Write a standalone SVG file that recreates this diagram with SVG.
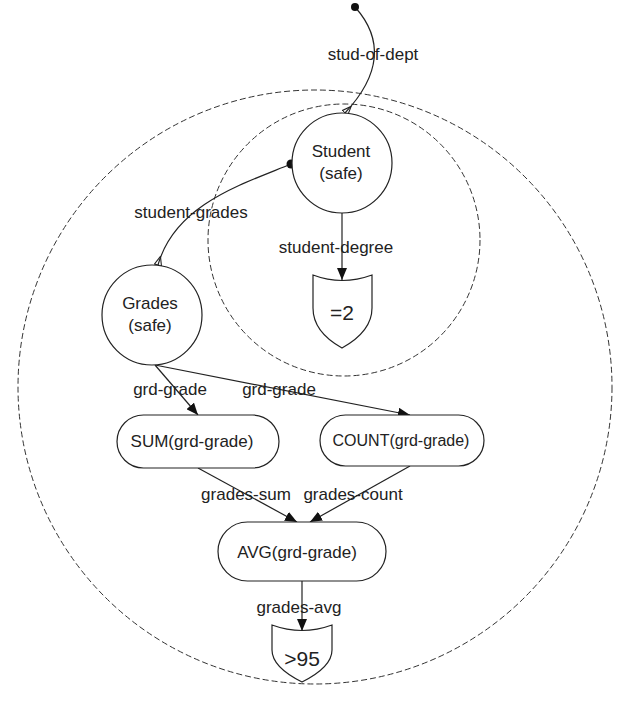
<svg xmlns="http://www.w3.org/2000/svg" width="633" height="704" viewBox="0 0 633 704">
<style>
.bg{fill:#fff}
.scope{fill:none;stroke:#333;stroke-width:1;stroke-dasharray:6,3}
.node{fill:#fff;stroke:#222;stroke-width:1.2}
.edge{fill:none;stroke:#222;stroke-width:1.2}
.t{font-family:"Liberation Sans",Arial,sans-serif;font-size:17px;fill:#222;text-anchor:middle}
.big{font-size:21px}
</style>
<defs>
<marker id="arr" viewBox="0 0 12 10" refX="12" refY="5" markerUnits="userSpaceOnUse" markerWidth="12" markerHeight="10" orient="auto">
<path d="M0,0 L12,5 L0,10 Z" fill="#111"/>
</marker>
<marker id="open" viewBox="0 0 10 10" refX="10" refY="5" markerUnits="userSpaceOnUse" markerWidth="10" markerHeight="9" orient="auto">
<path d="M10,1 L10,9 L0,5 Z" fill="none" stroke="#222" stroke-width="1.2"/>
</marker>
</defs>
<rect class="bg" x="0" y="0" width="633" height="704"/>
<g id="scopes">
<circle class="scope" cx="315" cy="387" r="297"/>
<circle class="scope" cx="344" cy="240" r="136"/>
</g>
<g id="connectors">
<path class="edge" d="M355,7 C380,35 385,70 345,113" marker-end="url(#open)"/>
<circle cx="355" cy="7" r="4" fill="#111"/>
<text class="t" x="373" y="60">stud-of-dept</text>
<path class="edge" d="M291,164 C240,185 175,205 158,265" marker-end="url(#open)"/>
<circle cx="291" cy="164" r="4.5" fill="#111"/>
<text class="t" x="191" y="218">student-grades</text>
<path class="edge" d="M342,213 L342,280" marker-end="url(#arr)"/>
<text class="t" x="336" y="253">student-degree</text>
<path class="edge" d="M155,365 L198,415" marker-end="url(#arr)"/>
<text class="t" x="170" y="395">grd-grade</text>
<path class="edge" d="M155,365 L410,415" marker-end="url(#arr)"/>
<text class="t" x="279" y="395">grd-grade</text>
<path class="edge" d="M198,468 L297,522" marker-end="url(#arr)"/>
<text class="t" x="246" y="500">grades-sum</text>
<path class="edge" d="M410,466 L310,522" marker-end="url(#arr)"/>
<text class="t" x="353" y="500">grades-count</text>
<path class="edge" d="M302,581 L302,631" marker-end="url(#arr)"/>
<text class="t" x="299" y="613">grades-avg</text>
</g>
<g id="student">
<circle class="node" cx="342" cy="163" r="50"/>
<text class="t" x="341" y="157">Student</text>
<text class="t" x="341" y="179">(safe)</text>
</g>
<g id="grades">
<circle class="node" cx="152" cy="315" r="50"/>
<text class="t" x="150" y="309">Grades</text>
<text class="t" x="150" y="331">(safe)</text>
</g>
<g id="eq2">
<path class="node" d="M313,275 Q342,286 372,275 L372,308 C372,326 360,338 342,348 C324,338 313,326 313,308 Z"/>
<text class="t big" x="342" y="320">=2</text>
</g>
<g id="sum">
<rect class="node" x="117" y="415" width="162" height="53" rx="26.5"/>
<text class="t" x="192" y="447">SUM(grd-grade)</text>
</g>
<g id="count">
<rect class="node" x="320" y="415" width="164" height="51" rx="25.5"/>
<text class="t" x="401" y="446" style="font-size:16px">COUNT(grd-grade)</text>
</g>
<g id="avg">
<rect class="node" x="218" y="522" width="168" height="59" rx="29.5"/>
<text class="t" x="297" y="558">AVG(grd-grade)</text>
</g>
<g id="gt95">
<path class="node" d="M272,625 Q302,636 332,625 L332,650 C332,664 318,674 302,682 C286,674 272,664 272,650 Z"/>
<text class="t big" x="302" y="666">&gt;95</text>
</g>
</svg>
